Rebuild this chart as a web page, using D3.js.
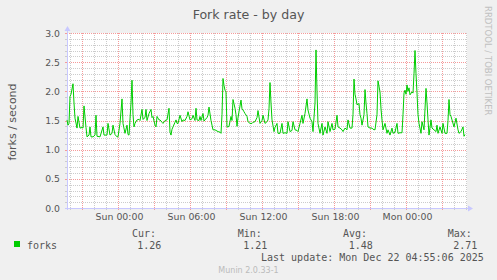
<!DOCTYPE html>
<html>
<head>
<meta charset="utf-8">
<script src="https://cdn.jsdelivr.net/npm/d3@7"></script>
<style>
  html, body { margin: 0; padding: 0; background: #f0f0f0; }
  svg { display: block; }
</style>
</head>
<body>
<svg id="chart" width="497" height="280"></svg>
<script>
// ---- data ----
const chartTitle = "Fork rate - by day";
const yAxisTitle = "forks / second";
const seriesName = "forks";
const startTime = "2025-12-20T19:45:00Z";
const endTime = "2025-12-22T05:05:00Z";
// minutes after startTime
const sampleMinutes = [0,5,10,15,20,30,35,40,50,55,65,75,80,85,95,100,110,115,120,130,140,145,150,165,180,185,200,205,215,225,230,240,250,255,265,275,280,290,300,305,310,320,325,330,335,340,350,360,365,375,380,390,395,400,410,420,425,430,440,445,450,460,465,475,480,490,500,510,515,520,525,530,540,545,550,555,565,575,580,590,600,605,615,625,630,640,645,650,660,665,670,680,685,690,700,705,710,720,725,730,740,750,755,765,770,775,780,785,790,795,800,805,810,820,825,830,840,845,850,855,860,870,875,880,885,890,900,905,915,925,930,940,950,955,965,975,980,990,1000,1005,1010,1015,1020,1025,1035,1040,1050,1055,1065,1075,1080,1090,1100,1105,1115,1125,1130,1140,1150,1155,1165,1175,1180,1190,1200,1205,1215,1225,1230,1240,1245,1250,1255,1265,1275,1280,1290,1300,1305,1315,1325,1330,1340,1350,1355,1365,1375,1380,1390,1400,1405,1415,1425,1430,1435,1440,1445,1450,1460,1465,1470,1475,1485,1490,1495,1500,1505,1515,1525,1530,1540,1550,1555,1565,1570,1575,1580,1590,1600,1605,1615,1625,1630,1640,1650,1655,1665,1675,1680,1685,1690,1695,1700,1705,1710,1715,1725,1730,1735,1740,1745,1750,1755,1760,1770,1775,1785,1795,1800,1805,1810,1820,1825,1835,1845,1850,1855,1865,1875,1880,1890,1900,1905,1910,1915,1920,1925,1935,1945,1955,1960,1970,1980,1985,1990];
const forkValues = [1.51,1.42,1.45,1.91,1.95,2.13,1.8,1.54,1.37,1.57,1.37,1.38,1.37,1.75,1.38,1.22,1.25,1.39,1.22,1.22,1.25,1.59,1.23,1.22,1.39,1.25,1.25,1.45,1.25,1.28,1.42,1.26,1.22,1.22,1.45,1.87,1.45,1.28,1.42,1.26,1.25,1.8,2.19,1.6,1.39,1.45,1.51,1.52,1.5,1.69,1.52,1.55,1.69,1.5,1.62,1.69,1.55,1.57,1.42,1.39,1.57,1.51,1.51,1.47,1.45,1.5,1.51,1.71,1.3,1.25,1.35,1.39,1.47,1.51,1.45,1.45,1.59,1.48,1.51,1.5,1.57,1.65,1.51,1.53,1.59,1.5,1.71,1.51,1.5,1.57,1.5,1.62,1.49,1.51,1.55,1.59,1.73,1.5,1.42,1.34,1.34,1.32,1.31,1.3,1.28,1.6,2.22,2.1,2.02,1.99,1.39,1.39,1.4,1.57,1.5,1.86,1.71,1.6,1.4,1.55,1.65,1.85,1.7,1.68,1.65,1.62,1.57,1.48,1.45,1.45,1.47,1.48,1.55,1.67,1.45,1.5,1.59,1.45,1.48,1.51,1.7,2.15,1.8,1.51,1.31,1.38,1.45,1.28,1.28,1.45,1.28,1.29,1.28,1.48,1.31,1.33,1.48,1.34,1.33,1.31,1.45,1.59,1.45,1.62,1.87,1.68,1.54,1.48,1.31,1.8,2.71,2.0,1.45,1.28,1.45,1.25,1.39,1.28,1.48,1.31,1.45,1.34,1.35,1.59,1.39,1.37,1.34,1.31,1.37,1.34,1.51,1.37,1.37,1.6,2.21,1.95,1.87,1.77,1.79,1.6,1.54,1.42,1.6,2.03,1.8,1.62,1.39,1.37,1.37,1.35,1.34,1.6,2.18,1.99,1.7,1.51,1.34,1.45,1.28,1.34,1.25,1.37,1.28,1.3,1.45,1.28,1.29,1.29,1.6,1.97,2.02,1.95,2.11,2.0,2.06,1.94,1.99,1.97,2.3,2.7,2.3,1.97,1.6,1.45,1.28,1.48,1.34,2.05,1.8,1.51,1.25,1.51,1.37,1.34,1.31,1.42,1.28,1.39,1.28,1.45,1.28,1.28,1.5,1.86,1.6,1.57,1.51,1.39,1.54,1.34,1.28,1.31,1.39,1.23,1.26];
const yTickLabels = ["0.0","0.5","1.0","1.5","2.0","2.5","3.0"];
const legendHeaders = ["Cur:","Min:","Avg:","Max:"];
const legendValues = ["1.26","1.21","1.48","2.71"];
const lastUpdate = "Last update: Mon Dec 22 04:55:06 2025";
const versionText = "Munin 2.0.33-1";
const watermark = "RRDTOOL / TOBI OETIKER";

// ---- layout ----
const L = 67, R = 467, T = 33, B = 208;
const svg = d3.select("#chart");
const sans = "'DejaVu Sans', Verdana, sans-serif";
const mono = "'DejaVu Sans Mono', monospace";
const textCol = "#555555";

svg.append("rect").attr("width", 497).attr("height", 280).attr("fill", "#f0f0f0");
svg.append("rect").attr("x", L).attr("y", T).attr("width", R - L).attr("height", B - T).attr("fill", "#ffffff");

const t0 = new Date(startTime), t1 = new Date(endTime);
const x = d3.scaleUtc().domain([t0, t1]).range([L, R]);
const y = d3.scaleLinear().domain([0, 3]).range([B, T]);

const data = sampleMinutes.map((m, i) => ({ t: new Date(t0.getTime() + m * 60000), v: forkValues[i] }));

const px = v => Math.round(v) + 0.5;

// grid
const hours = d3.utcHour.range(t0, t1).filter(d => d > t0);
const minorH = hours.filter(d => d.getUTCHours() % 3 !== 0);
const majorH = hours.filter(d => d.getUTCHours() % 3 === 0);
const yMinor = d3.range(1, 30).map(i => i / 10).filter(v => Math.round(v * 10) % 5 !== 0);
const yMajor = yTickLabels.map(Number);

const g = svg.append("g").attr("shape-rendering", "crispEdges");
g.selectAll(".vminor").data(minorH).join("line")
  .attr("x1", d => px(x(d))).attr("x2", d => px(x(d)))
  .attr("y1", T).attr("y2", B)
  .attr("stroke", "#cccccc").attr("stroke-dasharray", "1,1");
g.selectAll(".hminor").data(yMinor).join("line")
  .attr("x1", L).attr("x2", R)
  .attr("y1", d => px(y(d))).attr("y2", d => px(y(d)))
  .attr("stroke", "#cccccc").attr("stroke-dasharray", "1,1");
g.selectAll(".vmajor").data(majorH).join("line")
  .attr("x1", d => px(x(d))).attr("x2", d => px(x(d)))
  .attr("y1", T).attr("y2", B)
  .attr("stroke", "#f59a9a").attr("stroke-dasharray", "1,1");
g.selectAll(".hmajor").data(yMajor.filter(v => v > 0)).join("line")
  .attr("x1", L).attr("x2", R)
  .attr("y1", d => px(y(d))).attr("y2", d => px(y(d)))
  .attr("stroke", "#f59a9a").attr("stroke-dasharray", "1,1");

// small ticks outside the axes
g.selectAll(".vtick").data(hours).join("line")
  .attr("x1", d => px(x(d))).attr("x2", d => px(x(d)))
  .attr("y1", B).attr("y2", B + 2)
  .attr("stroke", d => d.getUTCHours() % 3 === 0 ? "#f59a9a" : "#cccccc");
g.selectAll(".htick").data(yMinor.concat(yMajor.filter(v => v > 0))).join("line")
  .attr("x1", L - 2).attr("x2", L)
  .attr("y1", d => px(y(d))).attr("y2", d => px(y(d)))
  .attr("stroke", d => Math.round(d * 10) % 5 === 0 ? "#f59a9a" : "#cccccc");

// data line
svg.append("path").datum(data)
  .attr("fill", "none").attr("stroke", "#00cc00").attr("stroke-width", 1)
  .attr("d", d3.line().x(d => x(d.t)).y(d => y(d.v)));

// axes (rrdtool style)
const axisCol = "#c8c8ff";
g.append("line").attr("x1", px(L)).attr("x2", px(L)).attr("y1", T - 3).attr("y2", B + 2).attr("stroke", axisCol);
g.append("line").attr("x1", L - 2).attr("x2", R + 1).attr("y1", px(B)).attr("y2", px(B)).attr("stroke", axisCol);
svg.append("path").attr("fill", axisCol)
  .attr("d", `M${L + 0.5},${T - 7} L${L - 2.5},${T - 2} L${L + 3.5},${T - 2} Z`);
svg.append("path").attr("fill", axisCol)
  .attr("d", `M${R + 6},${B + 0.5} L${R + 1},${B - 2.5} L${R + 1},${B + 3.5} Z`);

// y tick labels
svg.selectAll(".ylab").data(yTickLabels).join("text")
  .attr("x", 60).attr("y", d => y(+d) + 3.6)
  .attr("text-anchor", "end").attr("font-family", sans).attr("font-size", "9.3px")
  .attr("fill", textCol).text(d => d);

// x tick labels every 6 hours
const xLabels = d3.utcHour.every(6).range(t0, t1);
const fmt = d3.utcFormat("%a %H:%M");
svg.selectAll(".xlab").data(xLabels).join("text")
  .attr("x", d => x(d) + 1.5).attr("y", 219.5)
  .attr("text-anchor", "middle").attr("font-family", sans).attr("font-size", "9.4px")
  .attr("fill", textCol).text(d => fmt(d));

// titles
svg.append("text").attr("x", 248.5).attr("y", 19).attr("text-anchor", "middle")
  .attr("font-family", sans).attr("font-size", "12.6px").attr("fill", textCol).text(chartTitle);
svg.append("text").attr("transform", "translate(15.5,122) rotate(-90)").attr("text-anchor", "middle")
  .attr("font-family", sans).attr("font-size", "11px").attr("fill", textCol).text(yAxisTitle);
svg.append("text").attr("transform", "translate(485,6) rotate(90)").attr("text-anchor", "start")
  .attr("font-family", sans).attr("font-size", "8.5px").attr("fill", "#c0c0c0").text(watermark);

// legend
svg.append("rect").attr("x", 14).attr("y", 241).attr("width", 6).attr("height", 6).attr("fill", "#00cc00");
svg.append("text").attr("x", 27).attr("y", 248.5).attr("font-family", mono).attr("font-size", "10px")
  .attr("fill", textCol).text(seriesName);
const headerX = [132, 237.7, 343, 447.7];
const valueX = [137.3, 243.3, 348.7, 453.3];
svg.selectAll(".lh").data(legendHeaders).join("text")
  .attr("x", (d, i) => headerX[i]).attr("y", 237)
  .attr("font-family", mono).attr("font-size", "10px").attr("fill", textCol).text(d => d);
svg.selectAll(".lv").data(legendValues).join("text")
  .attr("x", (d, i) => valueX[i]).attr("y", 248.5)
  .attr("font-family", mono).attr("font-size", "10px").attr("fill", textCol).text(d => d);
svg.append("text").attr("x", 261).attr("y", 260.5)
  .attr("font-family", mono).attr("font-size", "10px").attr("fill", textCol)
  .attr("xml:space", "preserve").text(lastUpdate);
svg.append("text").attr("x", 248.5).attr("y", 272.5).attr("text-anchor", "middle")
  .attr("font-family", sans).attr("font-size", "8px").attr("fill", "#bbbbbb").text(versionText);
</script>
</body>
</html>
